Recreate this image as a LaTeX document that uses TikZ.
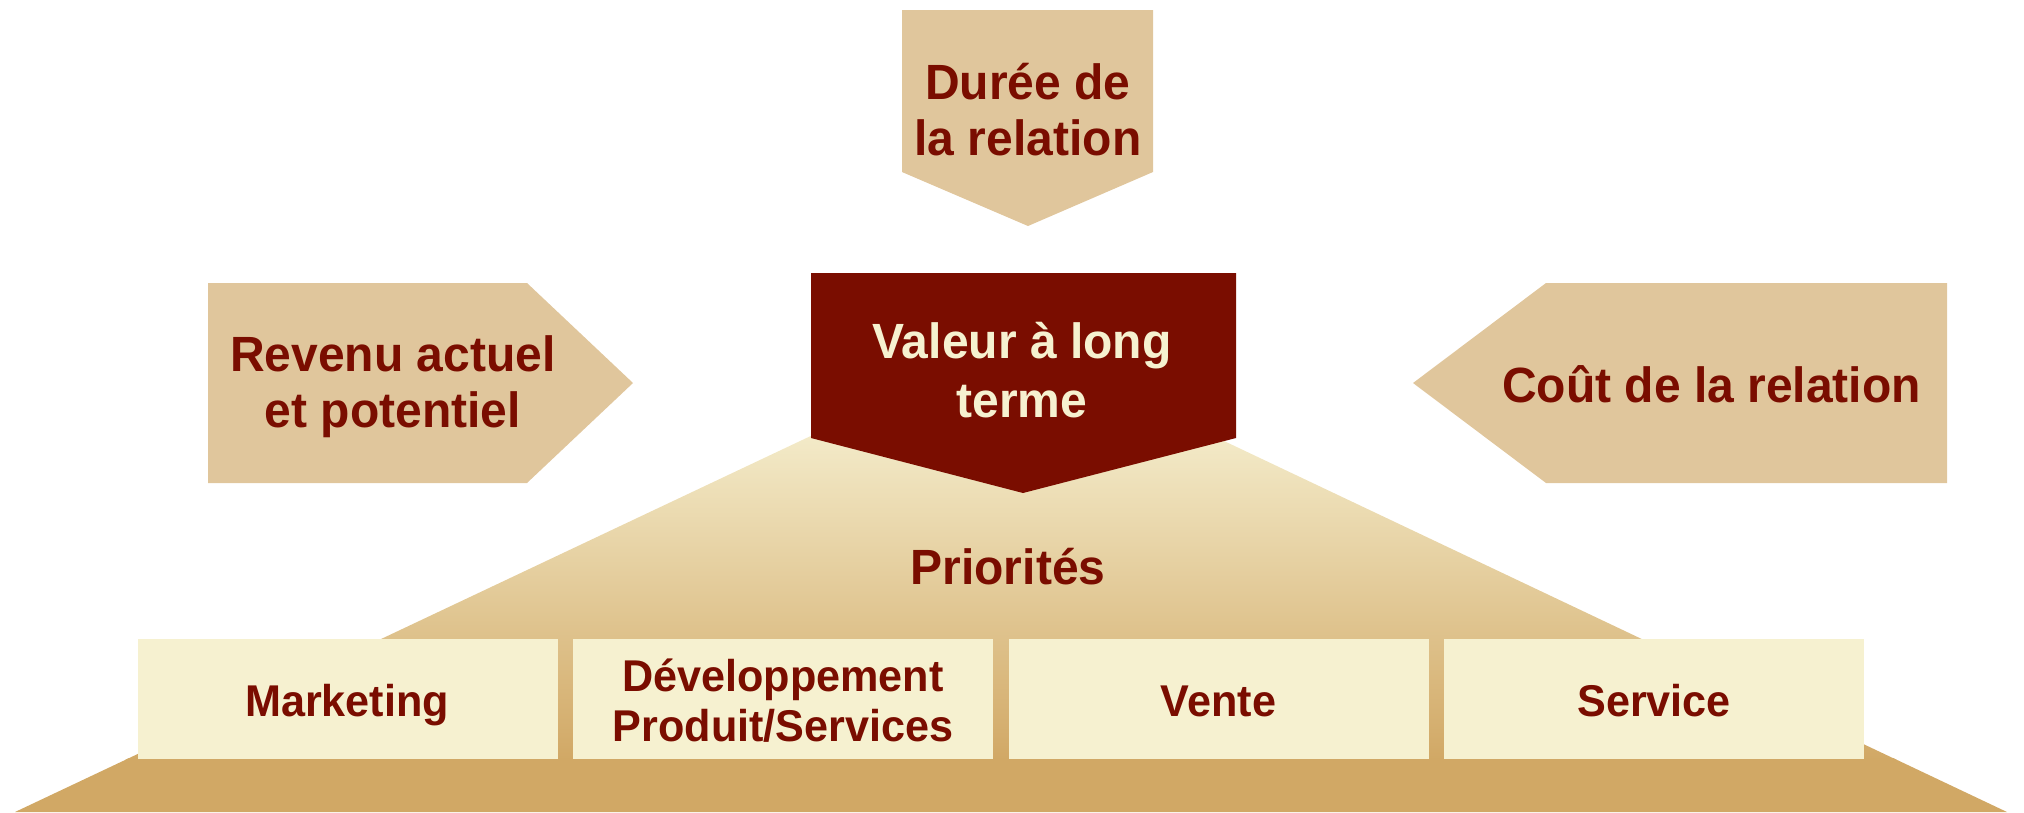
\documentclass[tikz,border=0pt]{standalone}
\usepackage{fontspec}
\setmainfont{Liberation Sans}[FakeStretch=0.97]
\definecolor{wine}{RGB}{122,13,0}
\definecolor{sand}{RGB}{224,198,156}
\definecolor{cream}{RGB}{246,241,208}
\definecolor{paletop}{RGB}{243,234,200}
\definecolor{ochre}{RGB}{209,168,101}
\begin{document}
\begin{tikzpicture}[x=1pt,y=-1pt,
  sandshape/.style={fill=sand},
  pillar/.style={fill=cream, draw=none, minimum width=420pt, minimum height=120pt, inner sep=0pt},
  lbl/.style={anchor=base, align=center, inner sep=0pt, text=wine, font=\bfseries},
  boxtext/.style={lbl, font=\fontsize{44.5}{50}\selectfont\bfseries},
  bigtext/.style={lbl, font=\fontsize{49.5}{56}\selectfont\bfseries}]
\useasboundingbox (0,0) rectangle (2024,812);

% pyramid: shaded upper part and solid base band
\coordinate (pTL) at (810.7,436);
\coordinate (pTR) at (1213.5,436);
\coordinate (pML) at (125,760);
\coordinate (pMR) at (1897,760);
\coordinate (qML) at (129.3,758);
\coordinate (qMR) at (1893,758);
\coordinate (pBL) at (15,812);
\coordinate (pBR) at (2007,812);
\shade[top color=paletop, bottom color=ochre] (pTL) -- (pTR) -- (pMR) -- (pML) -- cycle;
\fill[ochre] (qML) -- (qMR) -- (pBR) -- (pBL) -- cycle;

% top arrow: duration
\fill[sandshape] (902,10) -- (1153,10) -- (1153,172) -- (1028,226) -- (902,172) -- cycle;
% left arrow: revenue
\fill[sandshape] (208,283) -- (527,283) -- (633,383) -- (527,483) -- (208,483) -- cycle;
% right arrow: cost
\fill[sandshape] (1413,383) -- (1546,283) -- (1947,283) -- (1947,483) -- (1546,483) -- cycle;
% central value block
\fill[wine] (811,273) -- (1236,273) -- (1236,438) -- (1023,493) -- (811,438) -- cycle;

% four pillars
\node[pillar] (mkt) at (348,699) {};
\node[pillar] (dev) at (783,699) {};
\node[pillar] (ven) at (1218.5,699) {};
\node[pillar] (srv) at (1654,699) {};

% labels (base anchor = baseline of the last line)
\node[bigtext] (tduree) at (1028,155) {Durée de\\la relation};
\node[bigtext] (trevenu) at (393,427) {Revenu actuel\\et potentiel};
\node[bigtext] (tcout) at (1711.5,402) {Coût de la relation};
\node[bigtext, text=cream, font=\fontsize{49.5}{59}\selectfont\bfseries] (tvaleur) at (1022,417) {Valeur à long\\terme};
\node[bigtext] (tprio) at (1008,584) {Priorités};

\node[boxtext] (tmkt) at (347,716) {Marketing};
\node[boxtext] (tdev) at (783,741) {Développement\\Produit/Services};
\node[boxtext] (tven) at (1218.5,716) {Vente};
\node[boxtext] (tsrv) at (1654,716) {Service};
\end{tikzpicture}
\end{document}
